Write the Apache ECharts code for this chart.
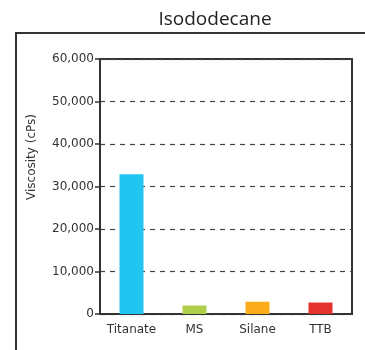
<!DOCTYPE html>
<html>
<head>
<meta charset="utf-8">
<script src="https://cdn.jsdelivr.net/npm/echarts@6/dist/echarts.min.js"></script>
<style>
  html, body { margin: 0; padding: 0; background: #fff; }
  #chart { width: 365px; height: 350px; }
</style>
</head>
<body>
<div id="chart"></div>
<script>
const categories = ['Titanate', 'MS', 'Silane', 'TTB']
const viscosity = [32900, 2000, 2900, 2700]
const barColors = ['#22c4f2', '#b0cf48', '#fbac1a', '#e4322e']

const chart = echarts.init(document.getElementById('chart'))

chart.setOption({
  animation: false,
  title: {
    text: 'Isododecane',
    left: 210,
    top: 5,
    textAlign: 'center',
    textStyle: {
      fontFamily: 'Open Sans',
      fontWeight: 'normal',
      fontSize: 19,
      color: '#222'
    }
  },
  graphic: [
    {
      type: 'rect',
      shape: { x: 16, y: 33, width: 400, height: 400 },
      style: { fill: 'none', stroke: '#333', lineWidth: 2 }
    },
    {
      type: 'text',
      x: 32,
      y: 157,
      rotation: Math.PI / 2,
      style: {
        text: 'Viscosity (cPs)',
        align: 'center',
        verticalAlign: 'middle',
        fontFamily: 'DejaVu Sans',
        fontSize: 12,
        fill: '#333'
      }
    }
  ],
  grid: {
    left: 100,
    top: 59,
    right: 13,
    bottom: 36,
    show: true,
    borderColor: '#333',
    borderWidth: 2
  },
  xAxis: {
    type: 'category',
    data: categories,
    axisLine: { lineStyle: { color: '#333', width: 2 } },
    axisTick: { show: false },
    axisLabel: {
      interval: 0,
      margin: 10,
      fontFamily: 'DejaVu Sans',
      fontSize: 12,
      color: '#333'
    }
  },
  yAxis: {
    type: 'value',
    min: 0,
    max: 60000,
    interval: 10000,
    axisLine: { show: true, lineStyle: { color: '#333', width: 2 } },
    axisTick: { show: true, length: 5, lineStyle: { color: '#333', width: 1.5 } },
    axisLabel: {
      margin: 6,
      fontFamily: 'DejaVu Sans',
      fontSize: 12,
      color: '#333',
      formatter: v => v.toString().replace(/\B(?=(\d{3})+(?!\d))/g, ',')
    },
    splitLine: {
      show: true,
      lineStyle: { color: '#444', type: [5, 5], width: 1.2 }
    }
  },
  series: [{
    type: 'bar',
    barWidth: 24,
    data: viscosity.map((v, i) => ({ value: v, itemStyle: { color: barColors[i] } }))
  }]
})
</script>
</body>
</html>
